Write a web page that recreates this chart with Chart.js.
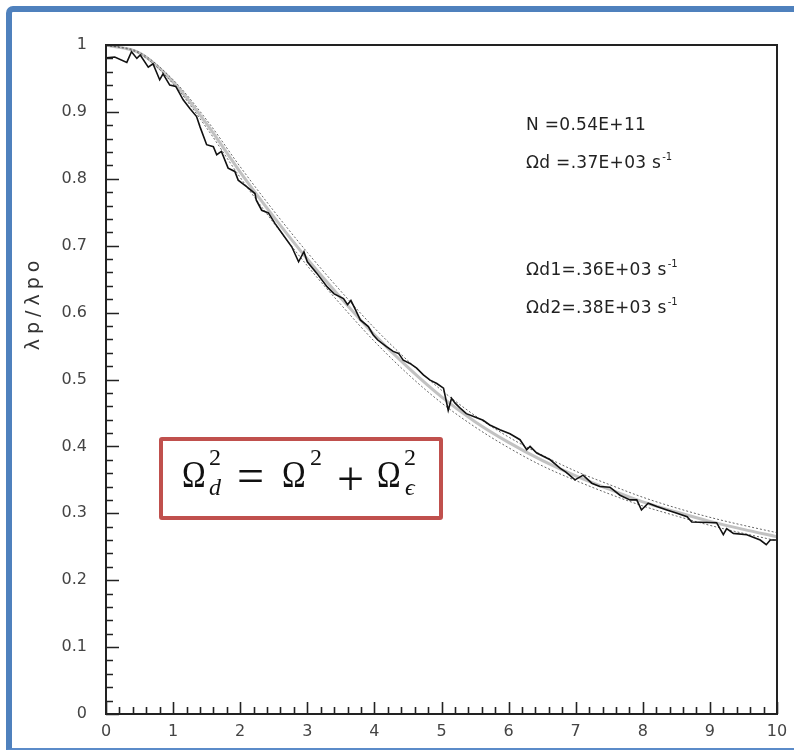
<!DOCTYPE html>
<html>
<head>
<meta charset="utf-8">
<script src="https://cdn.jsdelivr.net/npm/chart.js@4.4.1/dist/chart.umd.min.js"></script>
<style>
    html, body { margin: 0; padding: 0; background: #fff; overflow: hidden; }
    #wrap { position: relative; width: 794px; height: 754px; }
    #myChart { position: absolute; left: 0; top: 0; }
    .frame {
        position: absolute; left: 6px; top: 6px; width: 800px; height: 736px;
        border-left: 6px solid #4f81bd; border-top: 6px solid #4f81bd; border-bottom: 2px solid #5b8bc9;
        border-top-left-radius: 7px; pointer-events: none;
    }
    .ytitle {
        position: absolute; left: 32px; top: 303px; transform: translate(-50%, -50%) rotate(-90deg);
        font-family: 'DejaVu Sans', sans-serif; font-size: 19px; letter-spacing: 5px; color: #333; white-space: nowrap;
    }
    .note {
        position: absolute; left: 526px; font-family: 'DejaVu Sans', sans-serif; font-size: 17px;
        line-height: 18px; color: #222; white-space: nowrap; letter-spacing: 0.3px;
    }
    .note sup { font-size: 10px; vertical-align: 8px; line-height: 0; letter-spacing: 0; margin-left: 1px; }
    .eqbox {
        position: absolute; left: 159px; top: 437px; width: 284px; height: 83px; box-sizing: border-box;
        border: 4px solid #c0504d; border-radius: 3px; background: #fff;
    }
    .eq span {
        position: absolute; font-family: 'Liberation Serif', 'DejaVu Serif', serif; color: #111;
        line-height: 1; white-space: nowrap;
    }
    .eq .om { font-size: 37px; transform: scaleX(0.86); transform-origin: left center; }
    .eq .sm { font-size: 24px; }
    .eq .it { font-style: italic; }
    .eq .op { font-size: 48px; }
</style>
</head>
<body>
<div id="wrap">
    <canvas id="myChart" width="794" height="754"></canvas>
    <div class="frame"></div>
    <div class="ytitle">λp/λpo</div>
    <div class="note" style="top:115px">N =0.54E+11</div>
    <div class="note" style="top:153px">Ωd =.37E+03 s<sup>-1</sup></div>
    <div class="note" style="top:260px">Ωd1=.36E+03 s<sup>-1</sup></div>
    <div class="note" style="top:298px">Ωd2=.38E+03 s<sup>-1</sup></div>
    <div class="eqbox"></div>
    <div class="eq">
        <span class="om" style="left:182px; top:456px">Ω</span>
        <span class="sm" style="left:209px; top:445px">2</span>
        <span class="sm it" style="left:209px; top:475px">d</span>
        <span class="op" style="left:237px; top:452px">=</span>
        <span class="om" style="left:282px; top:456px">Ω</span>
        <span class="sm" style="left:310px; top:445px">2</span>
        <span class="op" style="left:337px; top:455px">+</span>
        <span class="om" style="left:377px; top:456px">Ω</span>
        <span class="sm" style="left:404px; top:445px">2</span>
        <span class="sm it" style="left:405px; top:475px">ϵ</span>
    </div>
</div>
<script>
// measured ratio (noisy line)
const dataX = [0.00, 0.13, 0.31, 0.38, 0.46, 0.51, 0.63, 0.70, 0.80, 0.85, 0.95, 1.04, 1.15, 1.25, 1.35, 1.40,
    1.50, 1.60, 1.65, 1.72, 1.82, 1.92, 1.97, 2.10, 2.22, 2.24, 2.32, 2.42, 2.52, 2.62, 2.77, 2.87, 2.95, 3.00,
    3.14, 3.30, 3.40, 3.54, 3.60, 3.65, 3.71, 3.79, 3.91, 3.98, 4.05, 4.18, 4.28, 4.36, 4.43, 4.53, 4.63, 4.73,
    4.83, 4.93, 5.03, 5.10, 5.15, 5.20, 5.27, 5.37, 5.47, 5.62, 5.72, 5.87, 6.02, 6.17, 6.27, 6.32, 6.42, 6.62,
    6.77, 6.85, 6.99, 7.11, 7.24, 7.36, 7.51, 7.66, 7.81, 7.91, 7.98, 8.08, 8.21, 8.36, 8.51, 8.66, 8.73, 9.10,
    9.20, 9.25, 9.35, 9.55, 9.75, 9.84, 9.90, 10.00];
const dataY = [0.981, 0.982, 0.974, 0.990, 0.980, 0.985, 0.967, 0.972, 0.948, 0.957, 0.940, 0.938, 0.918, 0.905, 0.893, 0.878,
    0.851, 0.848, 0.836, 0.841, 0.816, 0.811, 0.798, 0.788, 0.778, 0.768, 0.753, 0.749, 0.733, 0.719, 0.698, 0.676, 0.691, 0.676,
    0.659, 0.638, 0.628, 0.621, 0.612, 0.618, 0.606, 0.589, 0.579, 0.567, 0.559, 0.549, 0.542, 0.539, 0.529, 0.524, 0.517, 0.507,
    0.499, 0.494, 0.487, 0.454, 0.472, 0.465, 0.458, 0.449, 0.445, 0.439, 0.432, 0.425, 0.419, 0.410, 0.395, 0.400, 0.390, 0.380,
    0.367, 0.362, 0.350, 0.357, 0.345, 0.340, 0.339, 0.327, 0.320, 0.320, 0.305, 0.315, 0.310, 0.305, 0.300, 0.295, 0.287, 0.286,
    0.268, 0.277, 0.270, 0.268, 0.260, 0.253, 0.260, 0.260];

// fitted curves
const fitX = [0, 0.5, 1, 1.5, 2, 2.5, 3, 3.5, 4, 4.5, 5, 5.5, 6, 6.5, 7, 7.5, 8, 8.5, 9, 9.5, 10];
const fitMid = [1.0, 0.988, 0.945, 0.882, 0.810, 0.743, 0.680, 0.622, 0.567, 0.518, 0.474, 0.437, 0.406, 0.379, 0.356, 0.336, 0.317, 0.302, 0.288, 0.276, 0.265];
const fitHi = [1.0, 0.989, 0.948, 0.888, 0.818, 0.752, 0.690, 0.632, 0.577, 0.528, 0.484, 0.446, 0.414, 0.387, 0.363, 0.343, 0.324, 0.308, 0.294, 0.282, 0.271];
const fitLo = [1.0, 0.987, 0.942, 0.876, 0.802, 0.734, 0.670, 0.612, 0.557, 0.508, 0.465, 0.429, 0.398, 0.371, 0.349, 0.329, 0.311, 0.296, 0.282, 0.270, 0.259];

const xTickLabels = ['0', '1', '2', '3', '4', '5', '6', '7', '8', '9', '10'];
const yTickLabels = ['0', '0.1', '0.2', '0.3', '0.4', '0.5', '0.6', '0.7', '0.8', '0.9', '1'];

const toPts = (xs, ys) => xs.map((x, i) => ({ x: x, y: ys[i] }));

// ROOT style frame with inner major/minor ticks
const rootAxes = {
    id: 'rootAxes',
    afterDatasetsDraw(chart) {
        const { ctx, chartArea: a, scales } = chart;
        ctx.save();
        ctx.strokeStyle = '#222';
        ctx.lineWidth = 2;
        ctx.strokeRect(a.left, a.top, a.right - a.left, a.bottom - a.top);
        ctx.lineWidth = 1.6;
        ctx.beginPath();
        for (let i = 0; i <= 50; i++) {
            const py = Math.round(scales.y.getPixelForValue(i / 50)) + 0.5;
            const len = i % 5 === 0 ? 13 : 7;
            ctx.moveTo(a.left, py); ctx.lineTo(a.left + len, py);
            const px = Math.round(scales.x.getPixelForValue(i / 5)) + 0.5;
            const lenX = i % 5 === 0 ? 12 : 7;
            ctx.moveTo(px, a.bottom); ctx.lineTo(px, a.bottom - lenX);
        }
        ctx.stroke();
        ctx.restore();
    }
};

const tickFont = { family: "'DejaVu Sans', sans-serif", size: 16 };

new Chart(document.getElementById('myChart'), {
    type: 'line',
    data: {
        datasets: [
            { data: toPts(dataX, dataY), borderColor: '#111', borderWidth: 1.6, pointRadius: 0, tension: 0 },
            { data: toPts(fitX, fitHi), borderColor: '#666', borderWidth: 1, borderDash: [2, 2], pointRadius: 0, cubicInterpolationMode: 'monotone' },
            { data: toPts(fitX, fitLo), borderColor: '#666', borderWidth: 1, borderDash: [2, 2], pointRadius: 0, cubicInterpolationMode: 'monotone' },
            { data: toPts(fitX, fitMid), borderColor: 'rgba(120,120,120,0.45)', borderWidth: 3, pointRadius: 0, cubicInterpolationMode: 'monotone' }
        ]
    },
    options: {
        responsive: false, animation: false,
        layout: { padding: { left: 0, top: 45, right: 17, bottom: 10 } },
        plugins: { legend: { display: false }, tooltip: { enabled: false } },
        scales: {
            x: {
                type: 'linear', min: 0, max: 10,
                grid: { display: false }, border: { display: false },
                afterFit: (s) => { s.height = 30; },
                ticks: { stepSize: 1, maxRotation: 0, padding: 0, color: '#444', font: tickFont,
                    callback: (v) => xTickLabels[Math.round(v)] }
            },
            y: {
                min: 0, max: 1,
                grid: { display: false }, border: { display: false },
                afterFit: (s) => { s.width = 106; },
                ticks: { stepSize: 0.1, padding: 11, color: '#444', font: tickFont,
                    callback: (v) => yTickLabels[Math.round(v * 10)] }
            }
        }
    },
    plugins: [rootAxes]
});
</script>
</body>
</html>
